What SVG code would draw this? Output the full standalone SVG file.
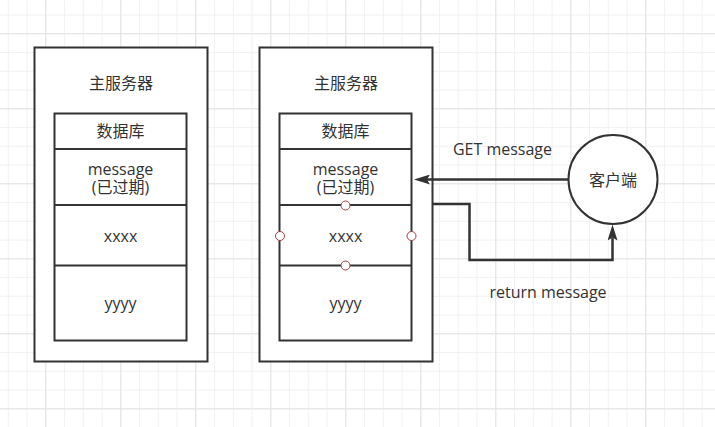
<svg xmlns="http://www.w3.org/2000/svg" width="715" height="427" viewBox="0 0 715 427">
<style>
.box{fill:#fff;stroke:#333;stroke-width:2}
.ln{fill:none;stroke:#333;stroke-width:2}
.t{font-family:"Open Sans","Noto Sans CJK SC",sans-serif;font-size:16px;fill:#333;text-anchor:middle}
.pt{fill:#fff;stroke:#a04040;stroke-width:1}
.edge{fill:none;stroke:#333;stroke-width:2.5}
</style>
<defs>
<pattern id="minor" patternUnits="userSpaceOnUse" x="45.3" y="33.3" width="18.75" height="18.75">
<path d="M0,0.5 H18.75 M0.5,0 V18.75" fill="none" stroke="#f1f1f1" stroke-width="1"/>
</pattern>
<pattern id="major" patternUnits="userSpaceOnUse" x="45.3" y="33.3" width="75" height="75">
<path d="M0,0.5 H75 M0.5,0 V75" fill="none" stroke="#e3e3e3" stroke-width="1"/>
</pattern>
<marker id="arr" viewBox="0 0 16 10" refX="3" refY="5" markerWidth="16" markerHeight="10" markerUnits="userSpaceOnUse" orient="auto">
<path d="M0,0 L16,5 L0,10 L3,5 Z" fill="#333"/>
</marker>
</defs>
<rect width="715" height="427" fill="#fff"/>
<rect width="715" height="427" fill="url(#minor)"/>
<rect width="715" height="427" fill="url(#major)"/>

<g id="server1">
<rect class="box" x="34.5" y="47.5" width="173" height="314"/>
<text class="t" x="121" y="89">主服务器</text>
<rect class="box" x="54.5" y="113.5" width="132" height="227"/>
<line class="ln" x1="54.5" y1="149" x2="186.5" y2="149"/>
<line class="ln" x1="54.5" y1="205" x2="186.5" y2="205"/>
<line class="ln" x1="54.5" y1="265.5" x2="186.5" y2="265.5"/>
<text class="t" x="120.5" y="137">数据库</text>
<text class="t" x="120.5" y="175">message</text>
<text class="t" x="120.5" y="193">(已过期)</text>
<text class="t" x="120.5" y="242">xxxx</text>
<text class="t" x="120.5" y="309">yyyy</text>
</g>

<g id="server2">
<rect class="box" x="259.5" y="47.5" width="173" height="314"/>
<text class="t" x="346" y="89">主服务器</text>
<rect class="box" x="279.5" y="113.5" width="132" height="227"/>
<line class="ln" x1="279.5" y1="149" x2="411.5" y2="149"/>
<line class="ln" x1="279.5" y1="205" x2="411.5" y2="205"/>
<line class="ln" x1="279.5" y1="265.5" x2="411.5" y2="265.5"/>
<text class="t" x="345.5" y="137">数据库</text>
<text class="t" x="345.5" y="175">message</text>
<text class="t" x="345.5" y="193">(已过期)</text>
<text class="t" x="345.5" y="242">xxxx</text>
<text class="t" x="345.5" y="309">yyyy</text>
<circle class="pt" cx="345.5" cy="205.5" r="4.5"/>
<circle class="pt" cx="280" cy="236" r="4.5"/>
<circle class="pt" cx="411.5" cy="236" r="4.5"/>
<circle class="pt" cx="345.5" cy="265.5" r="4.5"/>
</g>

<g id="client">
<circle cx="613" cy="179.5" r="44.5" fill="#fff" stroke="#333" stroke-width="2"/>
<text class="t" x="613" y="185.5">客户端</text>
</g>

<g id="connectors">
<path class="edge" d="M568.5,179.5 H427" marker-end="url(#arr)"/>
<path class="edge" d="M433,204 H469.5 V260 H612.5 V237.5" marker-end="url(#arr)"/>
<text class="t" x="502.5" y="154.5">GET message</text>
<text class="t" x="548" y="298">return message</text>
</g>
</svg>
